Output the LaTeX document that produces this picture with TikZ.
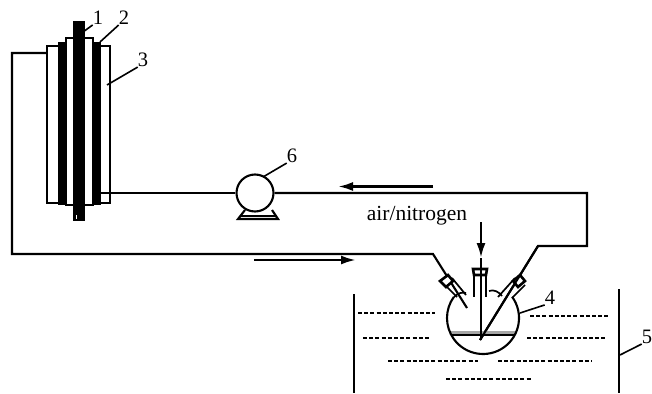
\documentclass[tikz,border=0pt]{standalone}
\usepackage{fontspec}
\setmainfont{Liberation Serif}
\usetikzlibrary{arrows.meta}
\tikzset{
    pipe/.style={line width=2.1pt},
    thinpipe/.style={line width=1.7pt},
    collar/.style={line width=2.6pt, fill=white},
    wall/.style={line width=2.6pt},
    leader/.style={line width=1.6pt},
    flow/.style={line width=2.5pt, -{Latex[length=15pt,width=9pt]}},
    bathline/.style={line width=2.5pt, dash pattern=on 4pt off 2.2pt},
    plate/.style={draw, line width=1.7pt, fill=white},
    band/.style={fill=black},
    numlabel/.style={font=\fontsize{20.5}{20.5}\selectfont, inner sep=0pt},
}
\begin{document}
\begin{tikzpicture}[x=1pt, y=-1pt]
    \useasboundingbox (0,0) rectangle (652,393);

    % cell stack
    \draw[plate] (47,46) rectangle (110,203);
    \draw[band] (58,42) rectangle (100,204);
    \draw[plate] (66,38) rectangle (93,205);
    \fill (73,21) rectangle (85,221);
    \fill[white] (75.5,215) rectangle (77,219);

    % pipes
    \coordinate (cellleft) at (47,53);
    \coordinate (cellright) at (100,193);
    \coordinate (cornerA) at (12,53);
    \coordinate (cornerB) at (12,254);
    \coordinate (bendleft) at (433,254);
    \coordinate (neckleft) at (467,308);
    \coordinate (cornerC) at (587,193);
    \coordinate (cornerD) at (587,246);
    \coordinate (bendright) at (538,246);
    \coordinate (neckright) at (480,340);
    \node[circle, draw, pipe, minimum size=37pt, inner sep=0pt] (pump) at (255,193) {};
    \draw[pipe] (cellleft) -- (cornerA) -- (cornerB) -- (bendleft) -- (neckleft);
    \draw[pipe] (cellright) -- (pump);
    \draw[pipe] (pump) -- (cornerC) -- (cornerD) -- (bendright) -- (neckright);

    % pump base
    \draw[pipe] (245,210) -- (238,219) -- (278,219) -- (272,210);
    \draw[thinpipe] (241,216) -- (275,216);

    % flow arrows
    \coordinate (backstart) at (433,186.5);
    \coordinate (backend) at (338,186.5);
    \coordinate (feedstart) at (254,260);
    \coordinate (feedend) at (356,260);
    \coordinate (gasstart) at (481,222);
    \coordinate (gasend) at (481,258);
    \coordinate (gasfoot) at (481,340);
    \draw[flow] (backstart) -- (backend);
    \draw[flow] (feedstart) -- (feedend);
    \draw[flow] (gasstart) -- (gasend);
    \draw[pipe] (gasend) -- (gasfoot);
    \node[font=\fontsize{21.5}{21.5}\selectfont, inner sep=0pt] (gaslabel) at (417,216) {air/nitrogen};

    % flask
    \coordinate (flask) at (483,318);
    \fill[black!35] (451,331) rectangle (515,335);
    \draw[pipe] (451,335) -- (515,335);
    \draw[pipe] (flask) ++(-36:36) arc[start angle=-36, end angle=216, radius=36];
    \draw[thinpipe] (454,297) .. controls (458,293) and (462,292) .. (466,293);
    \draw[thinpipe] (489,291) .. controls (494,289) and (499,292) .. (502,296);

    % necks
    \draw[pipe] (474,270) -- (474,297);
    \draw[pipe] (486,270) -- (486,297);
    \draw[collar] (473,269) -- (487,269) -- (486,275) -- (474,275) -- cycle;
    \draw[pipe] (481,262) -- (481,340);
    \draw[thinpipe] (442,282) -- (457,297);
    \draw[thinpipe] (452,278) -- (466,295);
    \draw[thinpipe] (498,297) -- (515,278);
    \draw[thinpipe] (512,298) -- (525,285);
    \draw[collar] (440,281) -- (448,275) -- (453,281) -- (446,287) -- cycle;
    \draw[collar] (513,281) -- (520,275) -- (525,281) -- (518,287) -- cycle;
    \draw[pipe] (bendright) -- (neckright);

    % bath
    \draw[wall] (354,294) -- (354,393);
    \draw[wall] (619,289) -- (619,393);
    \draw[bathline] (358,313) -- (435,313);
    \draw[bathline] (363,338) -- (430,338);
    \draw[bathline] (388,361) -- (478,361);
    \draw[bathline] (498,361) -- (592,361);
    \draw[bathline] (530,316) -- (608,316);
    \draw[bathline] (527,338) -- (605,338);
    \draw[bathline] (446,379) -- (532,379);

    % labels
    \node[numlabel] (labA) at (98,18) {1};
    \node[numlabel] (labB) at (124,18) {2};
    \node[numlabel] (labC) at (143,60) {3};
    \node[numlabel] (labD) at (550,298) {4};
    \node[numlabel] (labE) at (647,337) {5};
    \node[numlabel] (labF) at (292,156) {6};
    \coordinate (tipA) at (83,32);
    \coordinate (tipB) at (100,42);
    \coordinate (tipC) at (107,85);
    \coordinate (tipD) at (520,313);
    \coordinate (tipE) at (620,355);
    \coordinate (tipF) at (263,177);
    \draw[leader] (labA.south west) -- (tipA);
    \draw[leader] (labB.south west) -- (tipB);
    \draw[leader] (labC.south west) -- (tipC);
    \draw[leader] (labD.south west) -- (tipD);
    \draw[leader] (labE.south west) -- (tipE);
    \draw[leader] (labF.south west) -- (tipF);
\end{tikzpicture}
\end{document}
